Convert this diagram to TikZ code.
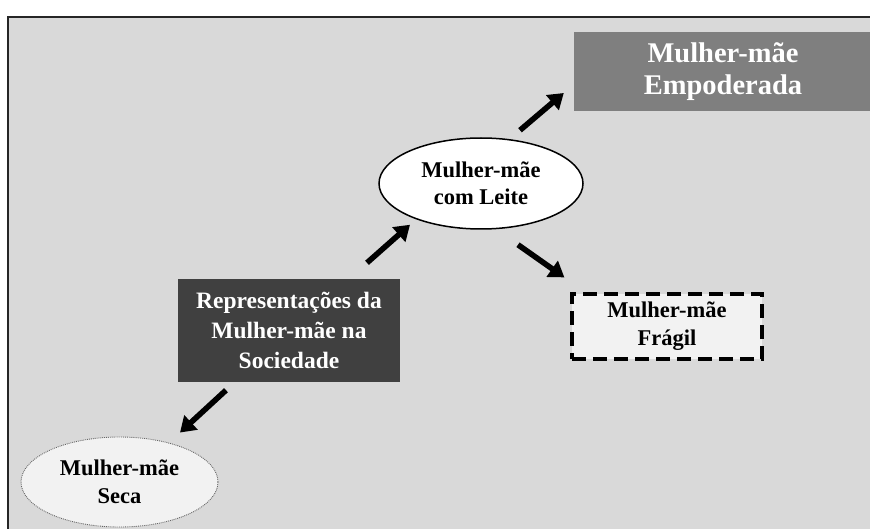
\documentclass[tikz,border=0pt]{standalone}
\usepackage{fontspec}
\setmainfont{Liberation Serif}
\usetikzlibrary{shapes.geometric,arrows.meta}
\definecolor{panel}{RGB}{217,217,217}
\definecolor{darkbox}{RGB}{64,64,64}
\definecolor{midbox}{RGB}{127,127,127}
\definecolor{lightbox}{RGB}{242,242,242}
\tikzset{
  arr/.style={line width=5.6pt, -{Triangle[length=15pt,width=19pt]}},
  txt/.style={align=center, font=\bfseries\fontsize{22.5}{28}\selectfont, inner sep=0pt},
}

\begin{document}
\begin{tikzpicture}[x=1pt, y=-1pt]
  \useasboundingbox (0,0) rectangle (870,529);
  \clip (0,0) rectangle (870,529);
  %% Panel
  \draw[line width=1.8pt, black!85, fill=panel] (8,17) rectangle (885,545);
  %% Boxes
  \node[txt, rectangle, fill=midbox, text=white, minimum width=298, minimum height=79,
        font=\bfseries\fontsize{28.5}{32}\selectfont] (emp) at (723,71.5) {Mulher-mãe\\Empoderada};
  \node[txt, ellipse, draw=black, line width=1.5pt, fill=white, minimum width=204, minimum height=91,
        font=\bfseries\fontsize{22.5}{27}\selectfont] (leite) at (481,183.5) {Mulher-mãe\\com Leite};
  \node[txt, rectangle, fill=darkbox, text=white, minimum width=222, minimum height=103,
        font=\bfseries\fontsize{23.5}{30}\selectfont] (rep) at (289,330.5) {Representações da\\Mulher-mãe na\\Sociedade};
  \node[txt, rectangle, draw=black, line width=3.2pt, dash pattern=on 14pt off 7pt, fill=lightbox,
        minimum width=190, minimum height=65] (fragil) at (667,326.5) {Mulher-mãe\\Frágil};
  \node[txt, ellipse, draw=black!60, line width=0.9pt, densely dotted, fill=lightbox,
        minimum width=197, minimum height=90] (seca) at (119.5,482) {Mulher-mãe\\Seca};
  %% Arrows
  \draw[arr] ([shift={(-63,8)}]rep.south) -- ([shift={(60.5,-4)}]seca.north);
  \draw[arr] ([shift={(78,-16)}]rep.north) -- ([shift={(-71,-5)}]leite.south);
  \draw[arr] ([shift={(39,-7)}]leite.north) -- ([shift={(-10,21.5)}]emp.west);
  \draw[arr] ([shift={(37,15)}]leite.south) -- ([shift={(-6,-15)}]fragil.north west);
\end{tikzpicture}
\end{document}
